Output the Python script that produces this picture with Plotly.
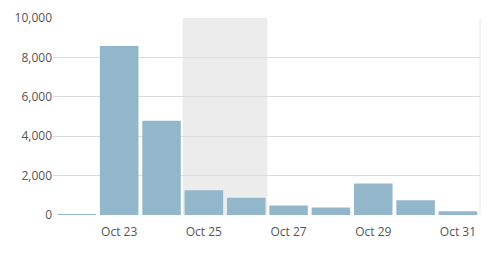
import plotly.graph_objects as go

dates = ["2014-10-22", "2014-10-23", "2014-10-24", "2014-10-25", "2014-10-26",
         "2014-10-27", "2014-10-28", "2014-10-29", "2014-10-30", "2014-10-31"]
values = [40, 8580, 4780, 1260, 880, 480, 380, 1600, 750, 190]
weekend_start = "2014-10-24 12:00"
weekend_end = "2014-10-26 12:00"

DAY_MS = 86400000

fig = go.Figure()
fig.add_trace(go.Bar(
    x=dates, y=values,
    marker=dict(color="#93b7ca", line=dict(width=0)),
    width=[0.91 * DAY_MS] * len(dates),
))

fig.add_shape(type="rect", xref="x", yref="paper",
              x0=weekend_start, x1=weekend_end, y0=0, y1=1,
              fillcolor="#ececec", line=dict(width=0), layer="below")
fig.add_shape(type="line", xref="paper", yref="paper",
              x0=1, x1=1, y0=0, y1=1,
              line=dict(color="#e8e8e8", width=1), layer="below")

fig.update_layout(
    width=489, height=263,
    margin=dict(l=53, r=9, t=18, b=48),
    paper_bgcolor="white", plot_bgcolor="white",
    showlegend=False,
    font=dict(family="Open Sans", size=12, color="#555555"),
    xaxis=dict(
        type="date",
        range=["2014-10-21 10:30", "2014-10-31 12:30"],
        tick0="2014-10-23", dtick=2 * DAY_MS,
        tickformat="%b %d",
        showgrid=False, zeroline=False, showline=False,
        ticks="outside", ticklen=6, tickcolor="rgba(0,0,0,0)",
    ),
    yaxis=dict(
        range=[0, 10000],
        tickvals=[0, 2000, 4000, 6000, 8000, 10000],
        tickformat=",",
        showgrid=True, gridcolor="#dcdcdc", gridwidth=1,
        zeroline=False, showline=False,
        ticks="", ticklen=0,
    ),
)

fig.write_html("out.html")
